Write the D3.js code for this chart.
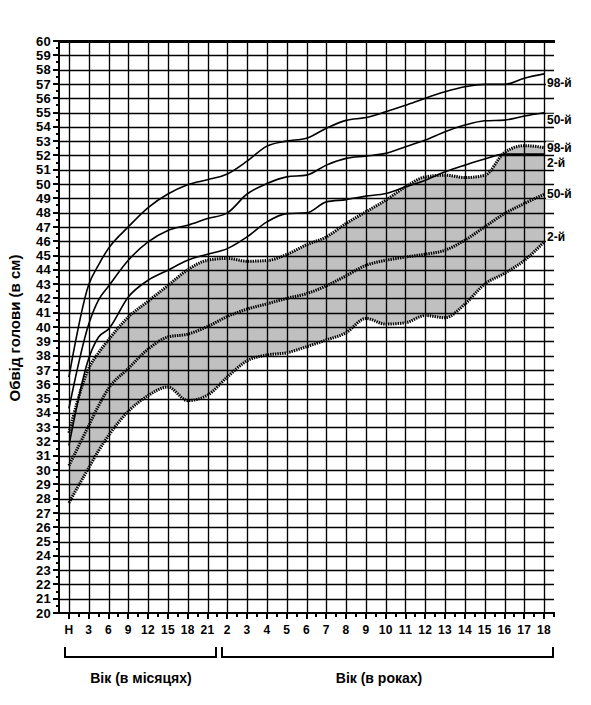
<!DOCTYPE html>
<html>
<head>
<meta charset="utf-8">
<script src="https://d3js.org/d3.v7.min.js"></script>
<style>
  body { margin: 0; background: #fff; }
  svg { display: block; background: #fff; }
  text { font-family: "Liberation Sans", Arial, sans-serif; font-weight: bold; fill: #000; }
</style>
</head>
<body>
<svg width="591" height="705"></svg>
<script>
// positions along the age axis (index of tick column; 1.5 ~ 4.5 months)
var pos = [0, 1, 1.5, 2, 3, 4, 5, 6, 7, 8, 9, 10, 11, 12, 13, 14, 15, 16, 17, 18, 19, 20, 21, 22, 23, 24];

var tickLabels = ["Н", "3", "6", "9", "12", "15", "18", "21", "2", "3", "4", "5", "6", "7", "8", "9",
                  "10", "11", "12", "13", "14", "15", "16", "17", "18"];

// solid curves (percentiles)
var solid98 = [36.5, 42.95, 44.35, 45.5, 47.0, 48.35, 49.3, 49.95, 50.3, 50.7, 51.6, 52.65, 53.0, 53.2, 53.9,
               54.45, 54.65, 55.05, 55.5, 56.0, 56.45, 56.8, 56.97, 56.97, 57.4, 57.7];
var solid50 = [34.3, 40.2, 41.9, 42.85, 44.67, 45.95, 46.75, 47.12, 47.58, 47.98, 49.3, 50.03, 50.5, 50.62, 51.32,
               51.79, 51.95, 52.14, 52.6, 53.07, 53.66, 54.12, 54.42, 54.47, 54.75, 54.98];
var solid2  = [31.7, 37.8, 39.3, 39.85, 42.1, 43.27, 43.97, 44.67, 45.09, 45.48, 46.3, 47.35, 47.93, 47.98, 48.75,
               48.91, 49.15, 49.33, 49.8, 50.27, 50.85, 51.32, 51.75, 52.09, 52.09, 52.09];

// dotted curves (shaded band)
var dot98 = [32.6, 37.1, 38.2, 39.1, 40.7, 41.8, 42.9, 44.0, 44.67, 44.8, 44.6, 44.65, 45.07, 45.75, 46.3,
             47.24, 48.05, 48.87, 49.8, 50.5, 50.62, 50.45, 50.6, 52.2, 52.68, 52.55];
var dot50 = [30.3, 33.1, 34.5, 35.7, 37.1, 38.45, 39.3, 39.5, 40.03, 40.73, 41.25, 41.62, 42.0, 42.33, 42.88,
             43.58, 44.31, 44.66, 44.89, 45.09, 45.37, 46.07, 47.0, 47.93, 48.63, 49.28];
var dot2  = [27.7, 30.15, 31.35, 32.4, 34.1, 35.2, 35.8, 34.85, 35.23, 36.5, 37.64, 38.04, 38.2, 38.62, 39.09,
             39.6, 40.6, 40.2, 40.3, 40.8, 40.65, 41.6, 43.0, 43.75, 44.65, 45.95];

var endLabels = ["98-й", "50-й", "98-й", "2-й", "50-й", "2-й"];

var svg = d3.select("svg");

var x = d3.scaleLinear().domain([-0.5, 24.5]).range([59, 554]);
var y = d3.scaleLinear().domain([20, 60]).range([613, 41]);

function pts(vals) { return pos.map(function(p, i) { return [p, vals[i]]; }); }

// shaded band
var band = pos.map(function(p, i) { return { p: p, lo: dot2[i], hi: dot98[i] }; });
svg.append("path")
  .datum(band)
  .attr("fill", "#c0c0c0")
  .attr("d", d3.area()
    .x(function(d) { return x(d.p); })
    .y0(function(d) { return y(d.lo); })
    .y1(function(d) { return y(d.hi); })
    .curve(d3.curveMonotoneX));

// grid
var grid = svg.append("g").attr("stroke", "#000");
d3.range(21, 60).forEach(function(v) {
  grid.append("line")
    .attr("x1", 59).attr("x2", 554)
    .attr("y1", Math.round(y(v)) + 0.5).attr("y2", Math.round(y(v)) + 0.5)
    .attr("stroke-width", 1.35);
});
d3.range(0, 25).forEach(function(i) {
  grid.append("line")
    .attr("x1", Math.round(x(i)) + 0.5).attr("x2", Math.round(x(i)) + 0.5)
    .attr("y1", y(60)).attr("y2", y(20))
    .attr("stroke-width", 1.35);
});
var frame = svg.append("g").attr("stroke", "#000").attr("shape-rendering", "crispEdges");
// top and bottom frame lines
frame.append("line").attr("x1", 59).attr("x2", 555).attr("y1", y(60)).attr("y2", y(60)).attr("stroke-width", 3);
frame.append("line").attr("x1", 53).attr("x2", 555).attr("y1", y(20)).attr("y2", y(20)).attr("stroke-width", 2);
// left axis
frame.append("line")
  .attr("x1", x(-0.5)).attr("x2", x(-0.5))
  .attr("y1", y(60) - 1).attr("y2", y(20) + 1)
  .attr("stroke-width", 2);
// y ticks
d3.range(20, 61).forEach(function(v) {
  frame.append("line").attr("x1", 53).attr("x2", 59)
    .attr("y1", y(v)).attr("y2", y(v)).attr("stroke-width", 2);
});
d3.range(20.5, 60, 1).forEach(function(v) {
  frame.append("line").attr("x1", 56).attr("x2", 59)
    .attr("y1", y(v)).attr("y2", y(v)).attr("stroke-width", 2);
});
// x ticks
d3.range(0, 25).forEach(function(i) {
  frame.append("line").attr("x1", x(i)).attr("x2", x(i))
    .attr("y1", y(20)).attr("y2", y(20) + 6).attr("stroke-width", 2);
});
d3.range(0.5, 25, 1).forEach(function(i) {
  frame.append("line").attr("x1", x(i)).attr("x2", x(i))
    .attr("y1", y(20)).attr("y2", y(20) + 3.5).attr("stroke-width", 2);
});

// y tick labels
svg.append("g").selectAll("text")
  .data(d3.range(20, 61))
  .join("text")
  .attr("x", 51)
  .attr("y", function(d) { return y(d); })
  .attr("dy", "0.36em")
  .attr("text-anchor", "end")
  .attr("font-size", 13)
  .attr("letter-spacing", 0.3)
  .text(function(d) { return d; });

// x tick labels
svg.append("g").selectAll("text")
  .data(tickLabels)
  .join("text")
  .attr("x", function(d, i) { return x(i); })
  .attr("y", 634)
  .attr("text-anchor", "middle")
  .attr("font-size", 12)
  .attr("letter-spacing", 0.3)
  .text(function(d) { return d; });

// curves
var line = d3.line()
  .x(function(d) { return x(d[0]); })
  .y(function(d) { return y(d[1]); })
  .curve(d3.curveMonotoneX);

[dot98, dot50, dot2].forEach(function(s) {
  svg.append("path")
    .attr("d", line(pts(s)))
    .attr("fill", "none")
    .attr("stroke", "#000")
    .attr("stroke-width", 3)
    .attr("stroke-dasharray", "1.4,1");
});
[solid98, solid50, solid2].forEach(function(s) {
  svg.append("path")
    .attr("d", line(pts(s)))
    .attr("fill", "none")
    .attr("stroke", "#000")
    .attr("stroke-width", 1.6);
});

// end labels
var labelSeries = [solid98, solid50, dot98, solid2, dot50, dot2];
var labelShift = [9, 7, 0, 9, -1, -5];
var lab = svg.append("g");
endLabels.forEach(function(t, i) {
  var s = labelSeries[i];
  var cy = y(s[s.length - 1]) + labelShift[i];
  lab.append("rect")
    .attr("x", 546).attr("y", cy - 6)
    .attr("width", 30).attr("height", 12)
    .attr("fill", "#fff");
  lab.append("text")
    .attr("x", 547)
    .attr("y", cy)
    .attr("dy", "0.36em")
    .attr("font-size", 12)
    .text(t);
});

// brackets under the axis
var brackets = [[65, 216], [222, 553]];
brackets.forEach(function(b) {
  svg.append("path")
    .attr("d", "M" + b[0] + ",647V657H" + b[1] + "V647")
    .attr("fill", "none")
    .attr("stroke", "#000")
    .attr("stroke-width", 2)
    .attr("shape-rendering", "crispEdges");
});
svg.append("text").attr("x", 141).attr("y", 683).attr("text-anchor", "middle")
  .attr("font-size", 14).text("Вік (в місяцях)");
svg.append("text").attr("x", 379).attr("y", 683).attr("text-anchor", "middle")
  .attr("font-size", 14).text("Вік (в роках)");

// y title
svg.append("text")
  .attr("transform", "translate(20,328) rotate(-90)")
  .attr("text-anchor", "middle")
  .attr("font-size", 15)
  .text("Обвід голови (в см)");
</script>
</body>
</html>
